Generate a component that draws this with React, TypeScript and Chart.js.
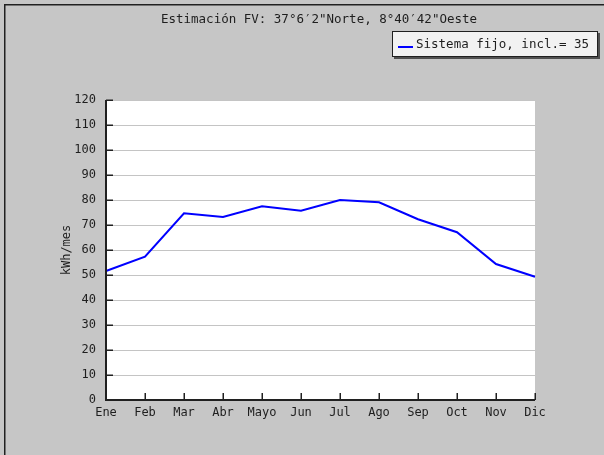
import React, { useEffect, useRef } from "react";
import { Chart, registerables } from "chart.js";

Chart.register(...registerables);

const months = ["Ene", "Feb", "Mar", "Abr", "Mayo", "Jun", "Jul", "Ago", "Sep", "Oct", "Nov", "Dic"];
const production = [51.6, 57.3, 74.7, 73.2, 77.5, 75.7, 80.0, 79.1, 72.3, 67.1, 54.4, 49.3];
const seriesLabel = "Sistema fijo, incl.= 35";
const chartTitle = "Estimación FV: 37°6′2\"Norte, 8°40′42\"Oeste";
const yAxisTitle = "kWh/mes";
const yMin = 0;
const yMax = 120;
const yStep = 10;

const BG = "#c6c6c6";
const TEXT = "#1e1e1e";
const MONO = "'DejaVu Sans Mono', monospace";

const decorPlugin = {
  id: "decor",
  beforeDraw(chart: any) {
    const { ctx, chartArea: a, width, height } = chart;
    ctx.save();
    ctx.fillStyle = BG;
    ctx.fillRect(0, 0, width, height);
    ctx.fillStyle = "#ffffff";
    ctx.fillRect(a.left, a.top, a.right - a.left, a.bottom - a.top);
    // outer frame (left and top edges visible)
    ctx.strokeStyle = "#202020";
    ctx.lineWidth = 1.5;
    ctx.beginPath();
    ctx.moveTo(4.75, height);
    ctx.lineTo(4.75, 4.75);
    ctx.lineTo(width, 4.75);
    ctx.stroke();
    ctx.restore();
  },
  afterDraw(chart: any) {
    const { ctx, chartArea: a } = chart;
    const xs = chart.scales.x;
    const ys = chart.scales.y;
    ctx.save();
    // axis lines
    ctx.strokeStyle = "#202020";
    ctx.lineWidth = 2;
    ctx.beginPath();
    ctx.moveTo(a.left, a.top);
    ctx.lineTo(a.left, a.bottom);
    ctx.lineTo(a.right, a.bottom);
    ctx.stroke();
    // inner ticks
    ctx.lineWidth = 1.5;
    ctx.beginPath();
    ys.ticks.forEach((t: any) => {
      const y = Math.round(ys.getPixelForValue(t.value)) + 0.25;
      ctx.moveTo(a.left, y);
      ctx.lineTo(a.left + 7, y);
    });
    months.forEach((_, i) => {
      const x = Math.round(xs.getPixelForValue(i)) + 0.25;
      ctx.moveTo(x, a.bottom);
      ctx.lineTo(x, a.bottom - 7);
    });
    ctx.stroke();

    // title
    ctx.fillStyle = TEXT;
    ctx.font = `12.5px ${MONO}`;
    ctx.textAlign = "center";
    ctx.textBaseline = "middle";
    ctx.fillText(chartTitle, 319, 20);

    // y axis title
    ctx.save();
    ctx.translate(67, (a.top + a.bottom) / 2);
    ctx.rotate(-Math.PI / 2);
    ctx.font = `12px ${MONO}`;
    ctx.textAlign = "center";
    ctx.textBaseline = "middle";
    ctx.fillText(yAxisTitle, 0, 0);
    ctx.restore();

    // legend box
    const ds = chart.data.datasets[0];
    const bx = 392, by = 31, bw = 206, bh = 26;
    ctx.fillStyle = "#505050";
    ctx.fillRect(bx + 2, by + 2, bw, bh);
    ctx.fillStyle = "#f2f2f2";
    ctx.fillRect(bx, by, bw, bh);
    ctx.strokeStyle = "#202020";
    ctx.lineWidth = 1;
    ctx.strokeRect(bx + 0.5, by + 0.5, bw - 1, bh - 1);
    ctx.strokeStyle = ds.borderColor;
    ctx.lineWidth = 2;
    ctx.beginPath();
    ctx.moveTo(bx + 6, by + 16);
    ctx.lineTo(bx + 21, by + 16);
    ctx.stroke();
    ctx.fillStyle = TEXT;
    ctx.font = `12.5px ${MONO}`;
    ctx.textAlign = "left";
    ctx.textBaseline = "middle";
    ctx.fillText(ds.label, bx + 24, by + 14);
    ctx.restore();
  },
};

export default function App() {
  const ref = useRef<HTMLCanvasElement | null>(null);
  useEffect(() => {
    if (!ref.current) return;
    const chart = new Chart(ref.current, {
      type: "line",
      data: {
        labels: months,
        datasets: [
          {
            label: seriesLabel,
            data: production,
            borderColor: "#0000ff",
            borderWidth: 2,
            pointRadius: 0,
            tension: 0,
            fill: false,
          },
        ],
      },
      options: {
        animation: false,
        responsive: false,
        devicePixelRatio: 1,
        layout: { padding: { left: 0, right: 69, top: 100, bottom: 25 } },
        plugins: {
          legend: { display: false },
          title: { display: false },
          tooltip: { enabled: false },
        },
        scales: {
          x: {
            offset: false,
            grid: { display: false, drawTicks: false },
            border: { display: false },
            ticks: {
              color: TEXT,
              font: { family: MONO, size: 12 },
              padding: 6,
              maxRotation: 0,
              autoSkip: false,
            },
            afterFit(scale: any) {
              scale.height = 30;
              scale.paddingLeft = 0;
              scale.paddingRight = 0;
            },
          },
          y: {
            min: yMin,
            max: yMax,
            grid: { color: "#c4c4c4", lineWidth: 1, drawTicks: false },
            border: { display: false },
            ticks: {
              stepSize: yStep,
              color: TEXT,
              font: { family: MONO, size: 12 },
              padding: 10,
            },
            afterFit(scale: any) {
              scale.width = 106;
              scale.paddingTop = 0;
              scale.paddingBottom = 0;
            },
          },
        },
      },
      plugins: [decorPlugin],
    });
    return () => chart.destroy();
  }, []);
  return (
    <div style={{ position: "fixed", left: 0, top: 0, width: 604, height: 455 }}>
      <canvas ref={ref} width={604} height={455} style={{ display: "block", width: 604, height: 455 }} />
    </div>
  );
}
